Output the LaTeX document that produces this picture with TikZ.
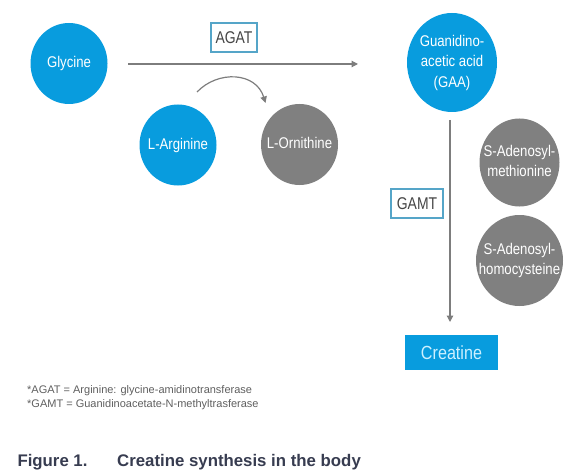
\documentclass[tikz,border=0pt]{standalone}
\usepackage{fontspec}
\setmainfont{Liberation Sans}
\newfontfamily\cnd[FakeStretch=0.85]{Liberation Sans}
\newfontfamily\cndb[FakeStretch=0.82]{Liberation Sans}
\usetikzlibrary{arrows.meta,shapes.geometric}
\definecolor{cblue}{RGB}{8,156,222}
\definecolor{cgray}{RGB}{128,128,128}
\definecolor{cline}{RGB}{125,125,125}
\definecolor{cbord}{RGB}{85,165,200}
\definecolor{ctext}{RGB}{70,70,70}
\definecolor{cnote}{RGB}{95,95,95}
\definecolor{ccap}{RGB}{55,60,80}
\definecolor{ccre}{RGB}{205,240,255}
\newcommand{\zw}[1]{\makebox[0pt]{\begin{tabular}{@{}c@{}}#1\end{tabular}}}
\begin{document}
\begin{tikzpicture}[x=1pt,y=-1pt,
  mol/.style={ellipse,inner sep=0pt,text=white,font=\cnd\fontsize{15.5}{20.5}\selectfont},
  bluemol/.style={mol,fill=cblue},
  graymol/.style={mol,fill=cgray},
  enz/.style={draw=cbord,line width=1.3pt,fill=white,text=ctext,inner sep=0pt,font=\cndb\fontsize{17}{20}\selectfont},
  conn/.style={draw=cline,line width=1.2pt,-{Triangle[length=6.5pt,width=6.5pt]}},
  note/.style={anchor=base west,inner sep=0pt,text=cnote,font=\fontsize{11}{13}\selectfont},
  captxt/.style={anchor=base west,inner sep=0pt,text=ccap,font=\bfseries\fontsize{16.8}{20}\selectfont}]
\useasboundingbox (0,0) rectangle (572,473);
% molecules
\node[bluemol,minimum width=77pt,minimum height=81pt] (gly) at (69,63.5) {\zw{Glycine}};
\node[bluemol,minimum width=77pt,minimum height=81pt] (arg) at (178,145) {\zw{L-Arginine}};
\node[graymol,minimum width=77pt,minimum height=81pt] (orn) at (299.5,144.5) {\zw{L-Ornithine}};
\node[bluemol,minimum width=90pt,minimum height=99pt] (gaa) at (452,62.5) {\zw{Guanidino-\\acetic acid\\(GAA)}};
\node[graymol,minimum width=80pt,minimum height=88pt] (sam) at (519.5,162.5) {\zw{S-Adenosyl-\\methionine}};
\node[graymol,minimum width=87pt,minimum height=91pt] (sah) at (519.5,260.5) {\zw{S-Adenosyl-\\homocysteine}};
\node[fill=cblue,minimum width=93pt,minimum height=35pt,inner sep=0pt,text=ccre,font=\cnd\fontsize{19}{22}\selectfont] (cre) at (451.5,352.5) {Creatine};
% enzymes
\node[enz,minimum width=46pt,minimum height=29pt] (agat) at (234,37.5) {AGAT};
\node[enz,minimum width=52pt,minimum height=29pt] (gamt) at (417,203.5) {GAMT};
% connectors
\coordinate (a1) at (128,64);
\coordinate (a2) at (358,64);
\draw[conn] (a1) -- (a2);
\coordinate (c1) at (197,92);
\coordinate (c2) at (265.5,103);
\draw[conn] (c1) .. controls (218,70) and (256,72) .. (c2);
\coordinate (g1) at (450,120);
\coordinate (g2) at (450,322);
\draw[conn] (g1) -- (g2);
% notes
\node[note] (n1) at (27,393.3) {*AGAT = Arginine: glycine-amidinotransferase};
\node[note] (n2) at (27,407.5) {*GAMT = Guanidinoacetate-N-methyltrasferase};
\node[captxt] (f1) at (17.3,466.5) {Figure 1.};
\node[captxt] (f2) at (117,466.5) {Creatine synthesis in the body};
\end{tikzpicture}
\end{document}
